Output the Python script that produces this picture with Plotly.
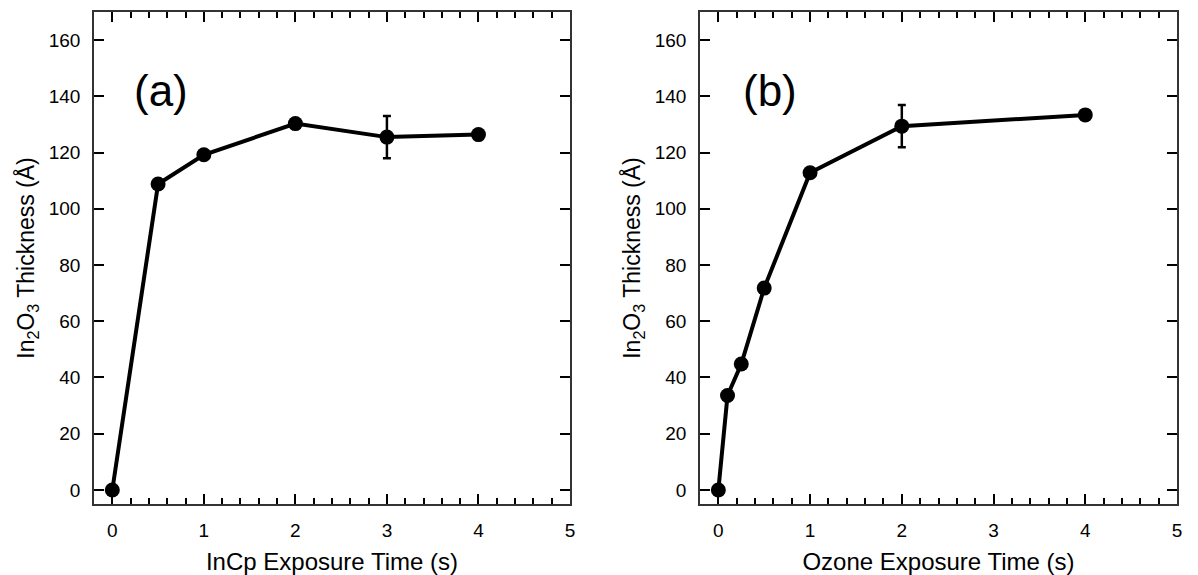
import plotly.graph_objects as go

# Panel (a): InCp exposure
incp_time = [0, 0.5, 1, 2, 3, 4]
incp_thick = [0, 108.8, 119.2, 130.3, 125.5, 126.4]
incp_err = [0, 0, 0, 0, 7.5, 0]

# Panel (b): Ozone exposure
ozone_time = [0, 0.1, 0.25, 0.5, 1, 2, 4]
ozone_thick = [0, 33.6, 44.8, 71.8, 112.8, 129.4, 133.4]
ozone_err = [0, 0, 0, 0, 0, 7.5, 0]

x_ticks = [0, 1, 2, 3, 4, 5]
x_tick_labels = ["0", "1", "2", "3", "4", "5"]
x_minor_ticks = [0.2, 0.4, 0.6, 0.8, 1.2, 1.4, 1.6, 1.8, 2.2, 2.4, 2.6, 2.8,
                 3.2, 3.4, 3.6, 3.8, 4.2, 4.4, 4.6, 4.8]
y_ticks = [0, 20, 40, 60, 80, 100, 120, 140, 160]

FONT = "Liberation Sans, Arial, sans-serif"

fig = go.Figure()

def add_series(x, y, err, xa, ya):
    fig.add_trace(go.Scatter(
        x=x, y=y, xaxis=xa, yaxis=ya, mode="lines+markers",
        line=dict(color="black", width=4),
        marker=dict(color="black", size=15),
        error_y=dict(type="data", array=err, visible=True, color="black",
                     thickness=2.5, width=4),
        showlegend=False,
    ))

add_series(incp_time, incp_thick, incp_err, "x", "y")
add_series(ozone_time, ozone_thick, ozone_err, "x2", "y2")

# invisible helper traces so the minor-tick overlay axes get drawn
for xa, ya in (("x3", "y"), ("x4", "y2")):
    fig.add_trace(go.Scatter(x=[None], y=[None], xaxis=xa, yaxis=ya, mode="markers",
                             showlegend=False, hoverinfo="skip"))

W, H = 1198, 575
X_RANGE = [-0.2, 5]

def xaxis_cfg(domain, title, anchor):
    return dict(
        domain=domain, anchor=anchor, range=X_RANGE,
        tickmode="array", tickvals=x_ticks, ticktext=x_tick_labels,
        ticks="inside", ticklen=10, tickwidth=2, tickcolor="black",
        showline=True, linecolor="#333", linewidth=1.5, mirror="ticks",
        showgrid=False, zeroline=False,
        tickfont=dict(family=FONT, size=19, color="black"),
        ticklabelstandoff=8,
        title=dict(text=title, font=dict(family=FONT, size=24, color="black"), standoff=14),
    )

def minor_x_cfg(overlay, anchor):
    # overlay axis carrying the short minor ticks
    return dict(
        overlaying=overlay, anchor=anchor, range=X_RANGE,
        tickmode="array", tickvals=x_minor_ticks,
        ticks="inside", ticklen=6, tickwidth=2, tickcolor="black",
        showticklabels=False, showline=False, mirror="ticks",
        showgrid=False, zeroline=False,
    )

def yaxis_cfg(anchor):
    return dict(
        domain=[0, 1], anchor=anchor, range=[-5, 170],
        tickmode="array", tickvals=y_ticks, ticks="inside", ticklen=10, tickwidth=1.5, tickcolor="black",
        showline=True, linecolor="#333", linewidth=1.5, mirror="ticks",
        showgrid=False, zeroline=False,
        tickfont=dict(family=FONT, size=19, color="black"),
        ticklabelstandoff=8,
        title=dict(text="In<sub>2</sub>O<sub>3</sub> Thickness (Å)",
                   font=dict(family=FONT, size=23, color="black"), standoff=8),
    )

fig.update_layout(
    width=W, height=H,
    margin=dict(l=0, r=0, t=12, b=71, autoexpand=False),
    paper_bgcolor="white", plot_bgcolor="white",
    xaxis=xaxis_cfg([94 / W, 570 / W], "InCp Exposure Time (s)", "y"),
    yaxis=yaxis_cfg("x"),
    xaxis2=xaxis_cfg([700 / W, 1177 / W], "Ozone Exposure Time (s)", "y2"),
    yaxis2=yaxis_cfg("x2"),
    xaxis3=minor_x_cfg("x", "y"),
    xaxis4=minor_x_cfg("x2", "y2"),
    annotations=[
        dict(text="(a)", x=0.53, y=142, xref="x", yref="y", showarrow=False,
             font=dict(family=FONT, size=44, color="black"), xanchor="center", yanchor="middle"),
        dict(text="(b)", x=0.56, y=142, xref="x2", yref="y2", showarrow=False,
             font=dict(family=FONT, size=44, color="black"), xanchor="center", yanchor="middle"),
    ],
)

fig.write_html("out.html")
